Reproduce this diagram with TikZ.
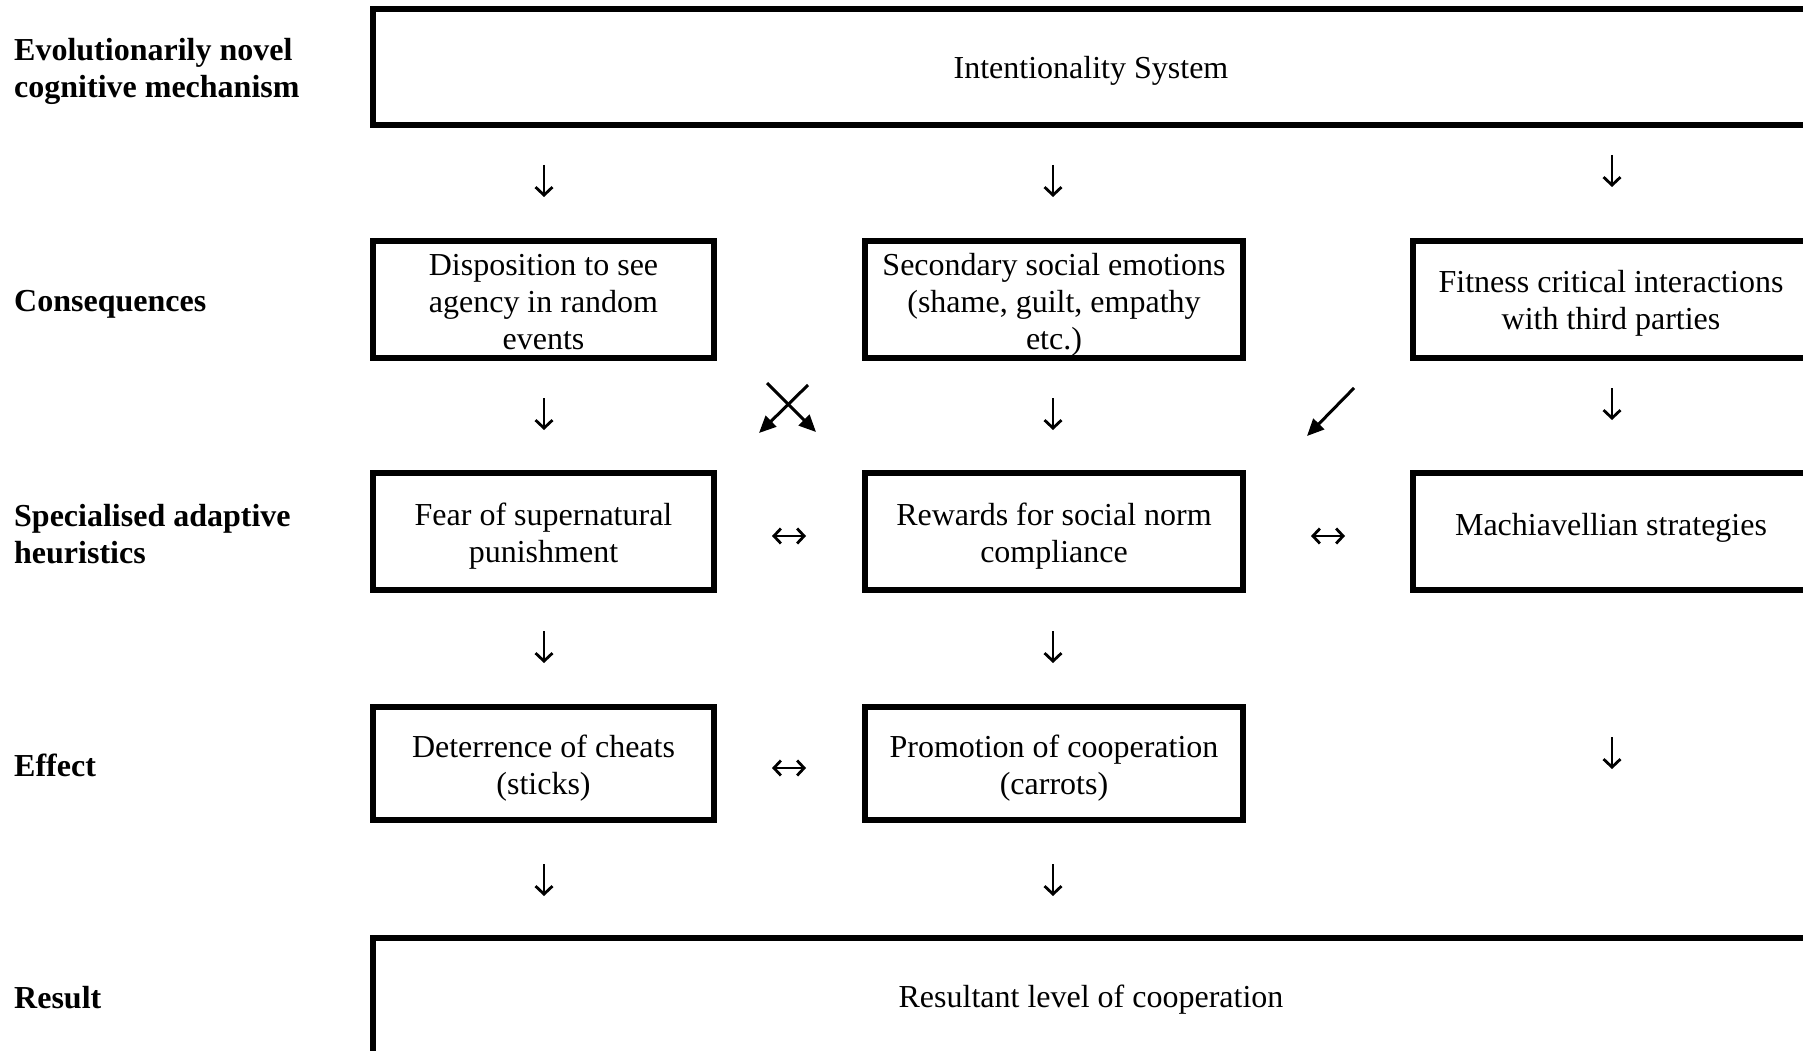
\documentclass[tikz,border=0pt]{standalone}
\usepackage{fontspec}
\setmainfont{Liberation Serif}
\usetikzlibrary{arrows.meta}
\begin{document}
\begin{tikzpicture}[x=1pt,y=-1pt,
  txt/.style={font=\fontsize{32}{37}\selectfont, align=center, inner sep=0pt},
  lbl/.style={font=\fontsize{32}{37}\selectfont\bfseries, align=left, anchor=west, inner sep=0pt},
  box/.style={draw, line width=6pt, minimum height=117pt, inner sep=0pt},
  downarr/.style={line width=2.8pt, -{Straight Barb[length=8pt,width=17pt]}},
  lrarr/.style={line width=2.8pt, {Straight Barb[length=7pt,width=15pt]}-{Straight Barb[length=7pt,width=15pt]}},
  diag/.style={line width=3pt, -{Triangle[length=17pt,width=15pt]}}]
\useasboundingbox (0,0) rectangle (1803,1051);
\clip (0,0) rectangle (1803,1051);
\fill[white] (0,0) rectangle (1803,1051);

% left labels
\node[lbl] (l1) at (14,71) {Evolutionarily novel\\cognitive mechanism};
\node[lbl] (l2) at (14,304) {Consequences};
\node[lbl] (l3) at (14,534) {Specialised adaptive\\heuristics};
\node[lbl] (l4) at (14,765) {Effect};
\node[lbl] (l5) at (14,998) {Result};

% boxes
\node[box, minimum width=1436pt, minimum height=116pt] (is) at (1091,67) {};
\node[box, minimum width=341pt] (disp) at (543.5,299.5) {};
\node[box, minimum width=378pt] (emo) at (1054,299.5) {};
\node[box, minimum width=396pt] (fit) at (1611,299.5) {};
\node[box, minimum width=341pt] (fear) at (543.5,531.5) {};
\node[box, minimum width=378pt] (rew) at (1054,531.5) {};
\node[box, minimum width=396pt] (mach) at (1611,531.5) {};
\node[box, minimum width=341pt, minimum height=113pt] (det) at (543.5,763.5) {};
\node[box, minimum width=378pt, minimum height=113pt] (pro) at (1054,763.5) {};
\node[box, minimum width=1436pt, minimum height=120pt] (res) at (1091,998) {};

% box texts
\node[txt] (ist) at ([yshift=-4pt]is.center) {Intentionality System};
\node[txt] (dispt) at ([yshift=-3pt]disp.center) {Disposition to see\\agency in random\\events};
\node[txt] (emot) at ([yshift=-5pt]emo.center) {Secondary social emotions\\(shame, guilt, empathy\\etc.)};
\node[txt] (fitt) at ([yshift=-4pt]fit.center) {Fitness critical interactions\\with third parties};
\node[txt] (feart) at ([yshift=-5pt]fear.center) {Fear of supernatural\\punishment};
\node[txt] (rewt) at ([yshift=-5pt]rew.center) {Rewards for social norm\\compliance};
\node[txt] (macht) at ([yshift=4pt]mach.center) {Machiavellian strategies};
\node[txt] (dett) at ([yshift=-5pt]det.center) {Deterrence of cheats\\(sticks)};
\node[txt] (prot) at ([yshift=-5pt]pro.center) {Promotion of cooperation\\(carrots)};
\node[txt] (rest) at ([yshift=-2pt]res.center) {Resultant level of cooperation};

% arrow end points
\coordinate (a1t) at (544,165);  \coordinate (a1b) at (544,197);
\coordinate (a2t) at (1053,165); \coordinate (a2b) at (1053,197);
\coordinate (a3t) at (1612,155); \coordinate (a3b) at (1612,187);
\coordinate (b1t) at (544,398);  \coordinate (b1b) at (544,430);
\coordinate (b2t) at (1053,398); \coordinate (b2b) at (1053,430);
\coordinate (b3t) at (1612,388); \coordinate (b3b) at (1612,420);
\coordinate (c1t) at (544,631);  \coordinate (c1b) at (544,663);
\coordinate (c2t) at (1053,631); \coordinate (c2b) at (1053,663);
\coordinate (c3t) at (1612,737); \coordinate (c3b) at (1612,769);
\coordinate (e1t) at (544,864);  \coordinate (e1b) at (544,896);
\coordinate (e2t) at (1053,864); \coordinate (e2b) at (1053,896);
\coordinate (h1l) at (772,536);  \coordinate (h1r) at (806,536);
\coordinate (h2l) at (1311,536); \coordinate (h2r) at (1345,536);
\coordinate (h3l) at (772,768);  \coordinate (h3r) at (806,768);
\coordinate (xa) at (767,383);   \coordinate (xab) at (816,432);
\coordinate (xb) at (808,385);   \coordinate (xbb) at (759,433);
\coordinate (ya) at (1354,388);  \coordinate (yab) at (1307,436);

\foreach \p in {a1,a2,a3,b1,b2,b3,c1,c2,c3,e1,e2}
  \draw[downarr] (\p t) -- (\p b);
\foreach \p in {h1,h2,h3}
  \draw[lrarr] (\p l) -- (\p r);
\draw[diag] (xa) -- (xab);
\draw[diag] (xb) -- (xbb);
\draw[diag] (ya) -- (yab);
\end{tikzpicture}
\end{document}
